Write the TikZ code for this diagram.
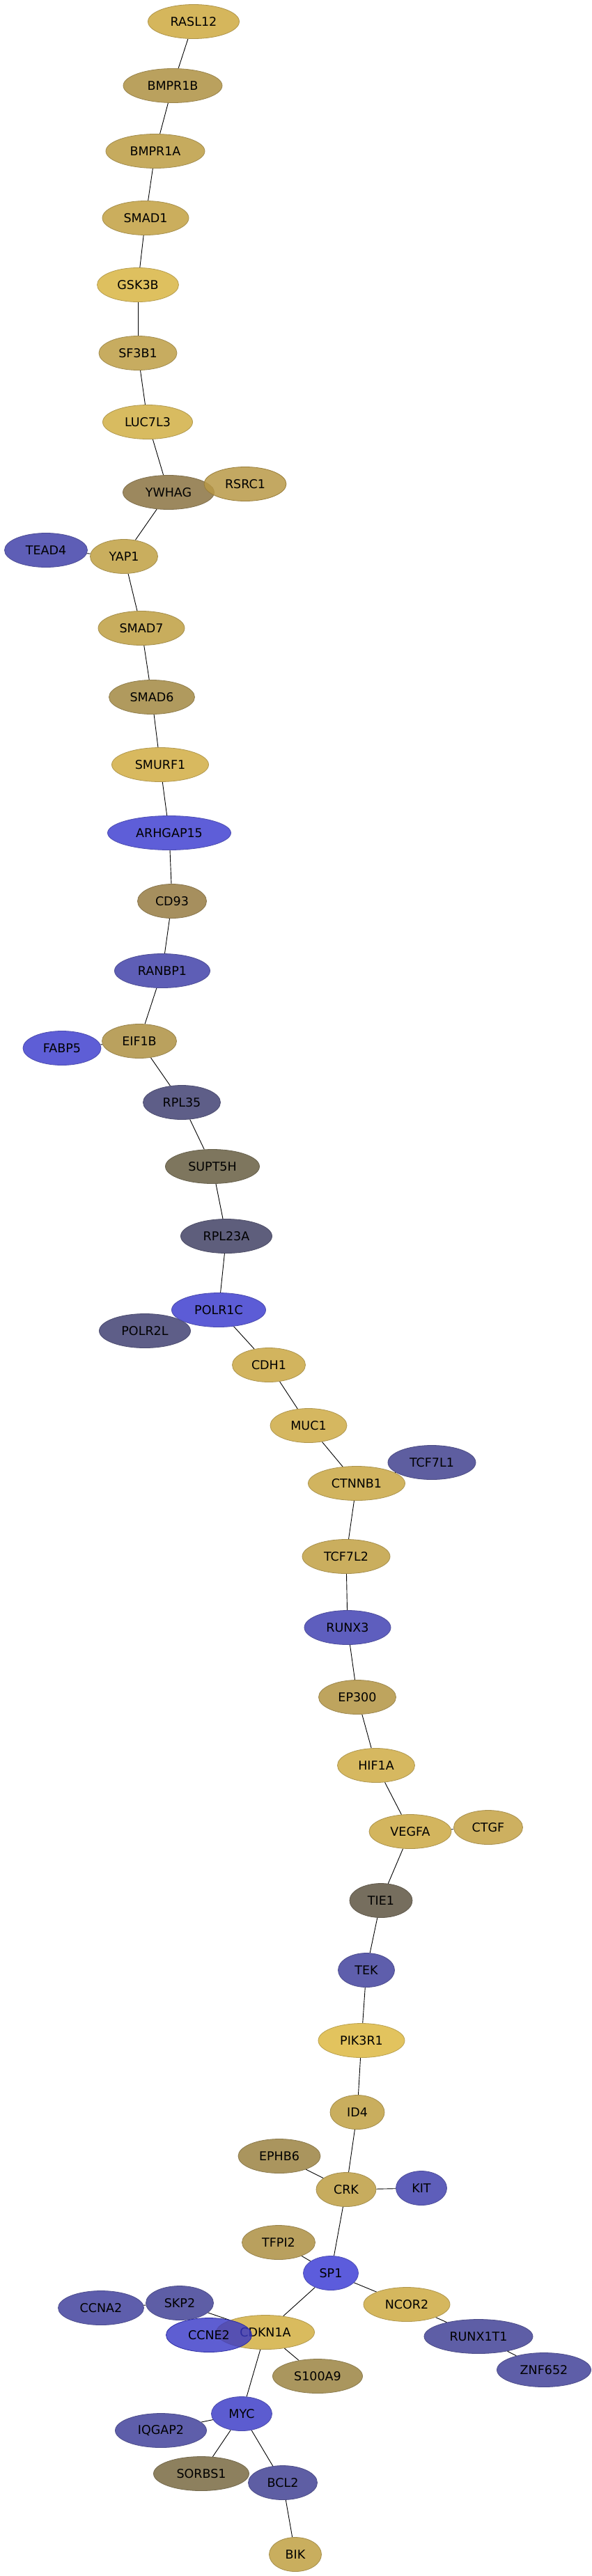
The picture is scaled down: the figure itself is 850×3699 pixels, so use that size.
\documentclass[tikz,border=0pt]{standalone}
\usepackage{fontspec}
\setmainfont{DejaVu Sans}
\usetikzlibrary{shapes.geometric,backgrounds}
\tikzset{
  gene/.style={ellipse, inner sep=0pt, minimum height=49pt, line width=0.8pt,
    font=\fontsize{17.5}{20}\selectfont, text=black},
  link/.style={line width=0.9pt, black}
}
\newcommand\gn[6][]{%
  \definecolor{c#2}{HTML}{#5}%
  \node[gene, fill=c#2, draw=c#2!82!black, minimum width=#6pt, #1] (#2) at (#3,#4) {#2};}
\begin{document}
\begin{tikzpicture}[x=1pt, y=-1pt]
\path[use as bounding box] (0,0) rectangle (850,3699);
\gn{RASL12}{278}{31}{D5B65C}{131}
\gn{BMPR1B}{248}{123}{BAA15E}{142}
\gn{BMPR1A}{223}{217}{C6AB5E}{142}
\gn{SMAD1}{209}{313}{CBAE5D}{124}
\gn{GSK3B}{198}{409}{DEC05F}{117}
\gn{SF3B1}{198}{507}{C7AC60}{112}
\gn{LUC7L3}{212}{606}{D8BB60}{129}
\gn{YWHAG}{242}{707}{9C885E}{131}
\gn[fill opacity=0.85, text opacity=1]{RSRC1}{352}{695}{B99947}{118}
\gn{TEAD4}{66}{790}{5E5EB6}{119}
\gn{YAP1}{178}{799}{C9AE5E}{97}
\gn{SMAD7}{203}{902}{C8AD5D}{124}
\gn{SMAD6}{218}{1001}{B09A5E}{123}
\gn{SMURF1}{230}{1098}{D8B95F}{139}
\gn{ARHGAP15}{243}{1196}{5E5ED8}{177}
\gn{CD93}{247}{1294}{A68F5E}{99}
\gn{RANBP1}{233}{1394}{5E5EB6}{137}
\gn{EIF1B}{200}{1495}{BAA15E}{107}
\gn{FABP5}{89}{1505}{5E5ED6}{112}
\gn{RPL35}{261}{1583}{5E5E88}{111}
\gn{SUPT5H}{305}{1675}{7E765E}{135}
\gn{RPL23A}{325}{1775}{5E5E7C}{131}
\gn{POLR2L}{208}{1911}{5E5E88}{131}
\gn{POLR1C}{314}{1881}{5C5CD6}{135}
\gn{CDH1}{386}{1960}{D2B45E}{105}
\gn{MUC1}{443}{2047}{D5B760}{110}
\gn{TCF7L1}{620}{2100}{5E5EA0}{126}
\gn{CTNNB1}{512}{2130}{D1B45F}{139}
\gn{TCF7L2}{497}{2235}{CAAE5E}{126}
\gn{RUNX3}{499}{2337}{5E5EBE}{124}
\gn{EP300}{513}{2437}{BEA45E}{111}
\gn{HIF1A}{540}{2535}{D6B860}{111}
\gn{VEGFA}{589}{2630}{D3B55E}{118}
\gn{CTGF}{701}{2624}{CDB060}{99}
\gn{TIE1}{547}{2729}{766E5E}{90}
\gn{TEK}{526}{2829}{5E5EAC}{81}
\gn{PIK3R1}{519}{2930}{E2C35E}{124}
\gn{ID4}{513}{3033}{C9AE5E}{78}
\gn{EPHB6}{401}{3096}{AA955E}{118}
\gn{CRK}{497}{3144}{C7AC5E}{86}
\gn{KIT}{605}{3142}{5E5EBA}{73}
\gn{TFPI2}{400}{3220}{B9A05E}{105}
\gn{SP1}{475}{3264}{5C5CDC}{79}
\gn{CCNA2}{145}{3314}{5E5EAC}{123}
\gn{SKP2}{258}{3307}{5E5EA6}{97}
\gn{NCOR2}{584}{3309}{D5B75E}{124}
\gn{CDKN1A}{381}{3349}{D9BB5E}{141}
\gn[fill opacity=0.8, text opacity=1]{CCNE2}{300}{3353}{3636C7}{123}
\gn{RUNX1T1}{687}{3355}{5E5EA6}{156}
\gn{ZNF652}{781}{3403}{5E5EA8}{135}
\gn{S100A9}{456}{3412}{AA965E}{129}
\gn{MYC}{347}{3466}{5C5CD0}{87}
\gn{IQGAP2}{231}{3490}{5E5EAA}{131}
\gn{SORBS1}{289}{3552}{8D805E}{137}
\gn{BCL2}{406}{3565}{5E5EA4}{99}
\gn{BIK}{424}{3668}{C9AE5E}{75}
\begin{pgfonlayer}{background}
\draw[link] (RASL12) -- (BMPR1B);
\draw[link] (BMPR1B) -- (BMPR1A);
\draw[link] (BMPR1A) -- (SMAD1);
\draw[link] (SMAD1) -- (GSK3B);
\draw[link] (GSK3B) -- (SF3B1);
\draw[link] (SF3B1) -- (LUC7L3);
\draw[link] (LUC7L3) -- (YWHAG);
\draw[link] (YWHAG) -- (RSRC1);
\draw[link] (YWHAG) -- (YAP1);
\draw[link] (YAP1) -- (TEAD4);
\draw[link] (YAP1) -- (SMAD7);
\draw[link] (SMAD7) -- (SMAD6);
\draw[link] (SMAD6) -- (SMURF1);
\draw[link] (SMURF1) -- (ARHGAP15);
\draw[link] (ARHGAP15) -- (CD93);
\draw[link] (CD93) -- (RANBP1);
\draw[link] (RANBP1) -- (EIF1B);
\draw[link] (EIF1B) -- (FABP5);
\draw[link] (EIF1B) -- (RPL35);
\draw[link] (RPL35) -- (SUPT5H);
\draw[link] (SUPT5H) -- (RPL23A);
\draw[link] (RPL23A) -- (POLR1C);
\draw[link] (POLR1C) -- (POLR2L);
\draw[link] (POLR1C) -- (CDH1);
\draw[link] (CDH1) -- (MUC1);
\draw[link] (MUC1) -- (CTNNB1);
\draw[link] (CTNNB1) -- (TCF7L1);
\draw[link] (CTNNB1) -- (TCF7L2);
\draw[link] (TCF7L2) -- (RUNX3);
\draw[link] (RUNX3) -- (EP300);
\draw[link] (EP300) -- (HIF1A);
\draw[link] (HIF1A) -- (VEGFA);
\draw[link] (VEGFA) -- (CTGF);
\draw[link] (VEGFA) -- (TIE1);
\draw[link] (TIE1) -- (TEK);
\draw[link] (TEK) -- (PIK3R1);
\draw[link] (PIK3R1) -- (ID4);
\draw[link] (ID4) -- (CRK);
\draw[link] (CRK) -- (EPHB6);
\draw[link] (CRK) -- (KIT);
\draw[link] (CRK) -- (SP1);
\draw[link] (SP1) -- (TFPI2);
\draw[link] (SP1) -- (CDKN1A);
\draw[link] (SP1) -- (NCOR2);
\draw[link] (NCOR2) -- (RUNX1T1);
\draw[link] (RUNX1T1) -- (ZNF652);
\draw[link] (SKP2) -- (CCNA2);
\draw[link] (SKP2) -- (CDKN1A);
\draw[link] (CDKN1A) -- (S100A9);
\draw[link] (CDKN1A) -- (MYC);
\draw[link] (MYC) -- (IQGAP2);
\draw[link] (MYC) -- (SORBS1);
\draw[link] (MYC) -- (BCL2);
\draw[link] (BCL2) -- (BIK);
\end{pgfonlayer}
\end{tikzpicture}
\end{document}
